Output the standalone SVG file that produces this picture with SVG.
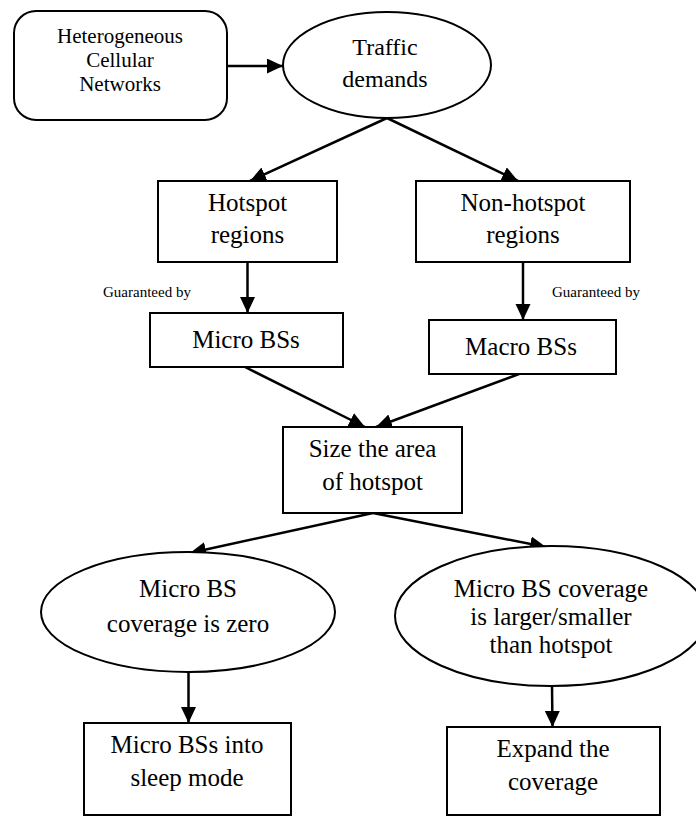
<svg xmlns="http://www.w3.org/2000/svg" width="696" height="816" viewBox="0 0 696 816">
  <style>
    .shape { fill: #ffffff; stroke: #000000; stroke-width: 2; }
    text { font-family: "Liberation Serif", "Times New Roman", Times, "DejaVu Serif", serif; fill: #000000; }
    .t { font-size: 25px; text-anchor: middle; }
    .t21 { font-size: 21px; }
    .t24 { font-size: 24px; }
    .small { font-size: 15px; }
    .edge { fill: none; stroke: #000000; stroke-width: 2.5; marker-end: url(#arrow); }
  </style>
  <defs>
    <marker id="arrow" markerUnits="userSpaceOnUse" markerWidth="17" markerHeight="16" refX="16" refY="7.5" orient="auto">
      <path d="M0,0 L16,7.5 L0,15 Z" fill="#000000"/>
    </marker>
  </defs>
  <rect width="696" height="816" fill="#ffffff"/>

  <g id="connectors">
    <line class="edge" x1="227" y1="66" x2="283" y2="66"/>
    <line class="edge" x1="387" y1="118" x2="250" y2="181"/>
    <line class="edge" x1="387" y1="118" x2="518" y2="181"/>
    <line class="edge" x1="247.5" y1="262" x2="247.5" y2="313"/>
    <line class="edge" x1="523" y1="262" x2="523" y2="320"/>
    <line class="edge" x1="245" y1="367" x2="365" y2="427"/>
    <line class="edge" x1="519" y1="374" x2="376" y2="427"/>
    <line class="edge" x1="373" y1="513" x2="190" y2="553"/>
    <line class="edge" x1="373" y1="513" x2="546" y2="547"/>
    <line class="edge" x1="188.5" y1="673" x2="188.5" y2="723"/>
    <line class="edge" x1="552" y1="686" x2="552.5" y2="727"/>
  </g>

  <g id="hetnet">
    <rect class="shape" x="14" y="11" width="213" height="109" rx="22" ry="22"/>
    <text class="t t21" x="120" y="43">Heterogeneous</text>
    <text class="t t21" x="120" y="67">Cellular</text>
    <text class="t t21" x="120" y="91">Networks</text>
  </g>

  <g id="traffic">
    <ellipse class="shape" cx="387" cy="65" rx="104" ry="53"/>
    <text class="t t24" x="385" y="55">Traffic</text>
    <text class="t t24" x="385" y="87">demands</text>
  </g>

  <g id="hotspot">
    <rect class="shape" x="158" y="181" width="179" height="81"/>
    <text class="t" x="247.5" y="211">Hotspot</text>
    <text class="t" x="247.5" y="243">regions</text>
  </g>

  <g id="nonhotspot">
    <rect class="shape" x="416" y="181" width="214" height="81"/>
    <text class="t" x="523" y="211">Non-hotspot</text>
    <text class="t" x="523" y="243">regions</text>
  </g>

  <g id="label-left">
    <text class="small" x="103" y="297">Guaranteed by</text>
  </g>
  <g id="label-right">
    <text class="small" x="552" y="297">Guaranteed by</text>
  </g>

  <g id="micro">
    <rect class="shape" x="150" y="313" width="193" height="54"/>
    <text class="t" x="246" y="348">Micro BSs</text>
  </g>

  <g id="macro">
    <rect class="shape" x="429" y="320" width="187" height="54"/>
    <text class="t" x="521" y="355">Macro BSs</text>
  </g>

  <g id="size">
    <rect class="shape" x="283" y="427" width="179" height="86"/>
    <text class="t" x="372.5" y="457">Size the area</text>
    <text class="t" x="372.5" y="490">of hotspot</text>
  </g>

  <g id="zero">
    <ellipse class="shape" cx="188" cy="612" rx="147" ry="60"/>
    <text class="t" x="188" y="597">Micro BS</text>
    <text class="t" x="188" y="632">coverage is zero</text>
  </g>

  <g id="larger">
    <ellipse class="shape" cx="551" cy="616" rx="156" ry="70"/>
    <text class="t" x="551" y="597">Micro BS coverage</text>
    <text class="t" x="551" y="625">is larger/smaller</text>
    <text class="t" x="551" y="653">than hotspot</text>
  </g>

  <g id="sleep">
    <rect class="shape" x="84" y="723" width="207" height="92"/>
    <text class="t" x="187" y="753">Micro BSs into</text>
    <text class="t" x="187" y="786">sleep mode</text>
  </g>

  <g id="expand">
    <rect class="shape" x="447" y="727" width="213" height="88"/>
    <text class="t" x="553" y="757">Expand the</text>
    <text class="t" x="553" y="790">coverage</text>
  </g>
</svg>
